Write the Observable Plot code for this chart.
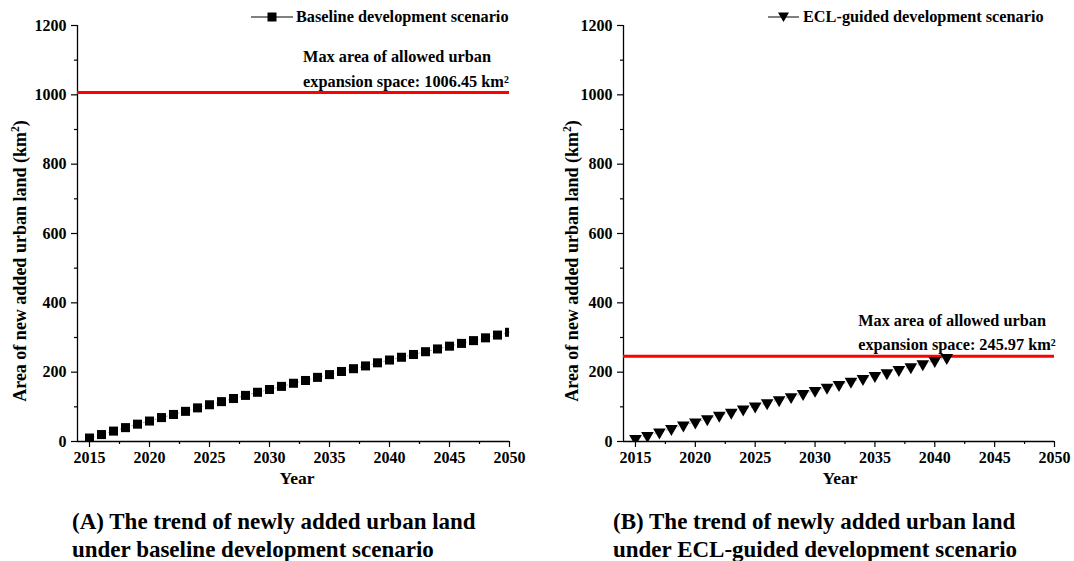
<!DOCTYPE html>
<html>
<head>
<meta charset="utf-8">
<script src="https://cdn.jsdelivr.net/npm/d3@7"></script>
<script src="https://cdn.jsdelivr.net/npm/@observablehq/plot@0.6"></script>
<style>
  html, body { margin: 0; padding: 0; background: #fff; }
  #wrap { position: relative; width: 1074px; height: 561px; background: #fff; overflow: hidden;
          font-family: "Liberation Serif", "Times New Roman", serif; font-weight: bold; color: #000; }
  .abs { position: absolute; white-space: nowrap; }
  .legend { font-size: 16.3px; display: flex; align-items: center; height: 20px; }
  .caption { font-size: 23px; line-height: 27.5px; }
  .ylab { font-size: 18px; transform: translate(-50%, -50%) rotate(-90deg); }
  .xlab { font-size: 17.5px; transform: translateX(-50%); }
  sup { font-size: 0.65em; line-height: 0; vertical-align: 0.55em; }
</style>
</head>
<body>
<div id="wrap"></div>
<script>
// ---------- data ----------
const baselineYears = [2015,2016,2017,2018,2019,2020,2021,2022,2023,2024,2025,2026,2027,2028,2029,2030,2031,2032,2033,2034,2035,2036,2037,2038,2039,2040,2041,2042,2043,2044,2045,2046,2047,2048,2049,2050];
const baselineArea = [10,20,30,40,50,59,69,78,87,97,106,115,124,133,142,150,159,168,176,185,193,202,210,218,227,235,243,251,259,267,275,283,291,299,307,315];
const eclYears = [2015,2016,2017,2018,2019,2020,2021,2022,2023,2024,2025,2026,2027,2028,2029,2030,2031,2032,2033,2034,2035,2036,2037,2038,2039,2040,2041];
const eclArea = [8,17,27,37,47,56,65,75,84,93,102,111,120,129,138,147,156,164,173,181,190,198,207,215,224,233,242];
const baselineMax = 1006.45;
const eclMax = 245.97;
const xTicks = [2015,2020,2025,2030,2035,2040,2045,2050];
const xMinorTicks = [2017.5,2022.5,2027.5,2032.5,2037.5,2042.5,2047.5];
const yTicks = [0,200,400,600,800,1000,1200];
const yMinorTicks = [100,300,500,700,900,1100];
const xDomain = [2014, 2050];
const yDomain = [0, 1200];
const legendLabels = ["Baseline development scenario", "ECL-guided development scenario"];
const annotLine1 = "Max area of allowed urban";
const annotLines2 = ["expansion space: 1006.45 km²", "expansion space: 245.97 km²"];
const captions = [
  ["(A) The trend of newly added urban land", "under baseline development scenario"],
  ["(B) The trend of newly added urban land", "under ECL-guided development scenario"]
];
const yLabel = "Area of new added urban land (km<sup>2</sup>)";
const xLabel = "Year";

const FONT = "'Liberation Serif', 'Times New Roman', serif";

function panel({years, values, maxVal, annotText, annotX, symbol, r, rotate, marginRight}) {
  const pts = years.map((y, i) => ({year: y, area: values[i]}));
  return Plot.plot({
    width: 537, height: 500,
    marginLeft: 77, marginRight, marginTop: 25, marginBottom: 59,
    style: {fontFamily: FONT, fontWeight: "bold", fontSize: "16px", color: "#000", background: "transparent", overflow: "visible"},
    x: {domain: xDomain},
    y: {domain: yDomain},
    marks: [
      Plot.axisX(xTicks, {tickSize: 6, tickPadding: 4, label: null, tickFormat: d => String(d), fontSize: 16, fontWeight: "bold", strokeWidth: 1.2}),
      Plot.axisX(xMinorTicks, {tickSize: 3, label: null, tickFormat: () => "", strokeWidth: 1.2}),
      Plot.axisY(yTicks, {tickSize: 6, tickPadding: 5, label: null, tickFormat: d => String(d), fontSize: 16, fontWeight: "bold", strokeWidth: 1.2}),
      Plot.axisY(yMinorTicks, {tickSize: 3, label: null, tickFormat: () => "", strokeWidth: 1.2}),
      Plot.ruleY([yDomain[0]], {stroke: "#000", strokeWidth: 1.3}),
      Plot.ruleX([xDomain[0]], {stroke: "#000", strokeWidth: 1.3}),
      Plot.ruleY([maxVal], {stroke: "#ff0000", strokeWidth: 3}),
      Plot.text([annotLine1 + "\n" + annotText], {
        x: () => annotX, y: () => maxVal, text: d => d,
        textAnchor: "start", lineAnchor: "bottom", lineHeight: 1.5,
        dy: -6, fontSize: 16.3, fontWeight: "bold", fill: "#000"
      }),
      Plot.line(pts, {x: "year", y: "area", stroke: "#666", strokeWidth: 0.6, strokeDasharray: "1,3"}),
      Plot.dot(pts, {x: "year", y: "area", symbol, r, rotate, fill: "#000", stroke: "none", clip: true})
    ]
  });
}

const wrap = document.getElementById("wrap");

const left = panel({years: baselineYears, values: baselineArea, maxVal: baselineMax, annotText: annotLines2[0], annotX: 2032.8, symbol: "square", r: 5.1, rotate: 0, marginRight: 28});
left.style.position = "absolute"; left.style.left = "0px"; left.style.top = "0px";
wrap.appendChild(left);

const right = panel({years: eclYears, values: eclArea, maxVal: eclMax, annotText: annotLines2[1], annotX: 2033.6, symbol: "triangle", r: 4.7, rotate: 180, marginRight: 29});
right.style.position = "absolute"; right.style.left = "546px"; right.style.top = "0px";
wrap.appendChild(right);

function addDiv(cls, html, css) {
  const d = document.createElement("div");
  d.className = "abs " + cls;
  d.innerHTML = html;
  Object.assign(d.style, css);
  wrap.appendChild(d);
  return d;
}

// legends
addDiv("legend",
  `<svg width="42" height="12" style="margin-right:3px"><line x1="0" x2="42" y1="6" y2="6" stroke="#000" stroke-width="1"/><rect x="16.5" y="1.5" width="9" height="9" fill="#000"/></svg><span>${legendLabels[0]}</span>`,
  {left: "251px", top: "7px"});
addDiv("legend",
  `<svg width="31" height="12" style="margin-right:4px"><line x1="0" x2="31" y1="6" y2="6" stroke="#000" stroke-width="1"/><path d="M10,1.5 L21,1.5 L15.5,11 Z" fill="#000"/></svg><span>${legendLabels[1]}</span>`,
  {left: "768px", top: "7px"});

// axis titles
addDiv("ylab", yLabel, {left: "20px", top: "261px"});
addDiv("ylab", yLabel, {left: "572px", top: "261px"});
addDiv("xlab", xLabel, {left: "297px", top: "468px"});
addDiv("xlab", xLabel, {left: "840px", top: "468px"});

// captions
addDiv("caption", captions[0].join("<br>"), {left: "72px", top: "508px"});
addDiv("caption", captions[1].join("<br>"), {left: "613px", top: "508px"});
</script>
</body>
</html>
